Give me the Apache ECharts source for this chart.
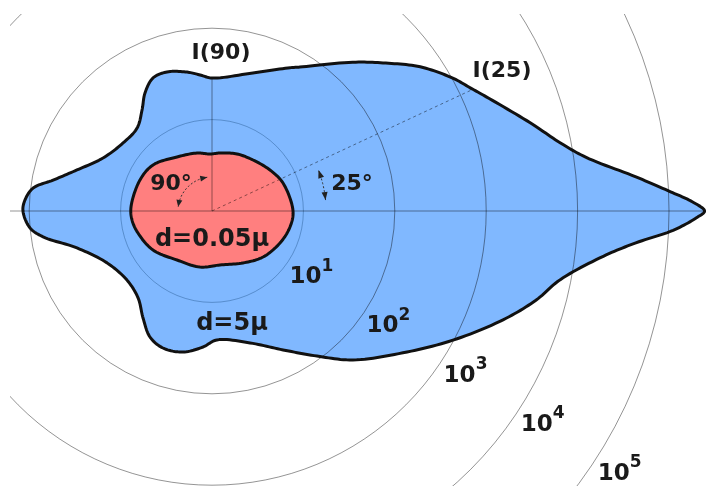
<!DOCTYPE html>
<html>
<head>
<meta charset="utf-8">
<script src="https://cdn.jsdelivr.net/npm/echarts@6/dist/echarts.min.js"></script>
<style>
  html, body { margin: 0; padding: 0; background: #ffffff; }
  #chart { width: 706px; height: 486px; }
</style>
</head>
<body>
<div id="chart"></div>
<script>
// Polar scattering diagram: relative scattered intensity (log radius) vs scattering angle
// (0 deg = forward direction, to the right).

// Large particle, d = 5 micron
const largeAngles = [0, 1.1, 2.4, 4.6, 8.2, 11.1, 15.5, 22.6, 25.5, 28.9, 34.7, 40.4, 46.6, 58.6, 61.4,
  73.5, 90, 95, 100.2, 107.9, 113.9, 119.6, 124.7, 132.1, 142.6, 154.1, 163.1, 169, 172.7, 176.6,
  180, 185.3, 188.7, 195.3, 206.3, 219.1, 229.6, 237.2, 243.8, 250.3, 258.4, 266.2, 272.2, 286.1,
  297.1, 305.9, 313.4, 323.4, 331.8, 339.5, 344.6, 348.8, 353.4, 355.7, 357.6, 359.2];
const largeIntensity = [245000, 180000, 105000, 45000, 13500, 7600, 4100, 1780, 1350, 1020, 590, 314, 174, 70, 61,
  37.6, 28.5, 31.2, 35, 39.7, 39.1, 30.5, 22.1, 16.7, 16.8, 21.2, 35, 59, 94, 112,
  117, 100, 74, 34, 19.1, 15.8, 17.7, 24.7, 34.4, 39.1, 37.6, 31, 25.8, 31.8,
  51, 91, 175, 400, 980, 2510, 4740, 7600, 20400, 44700, 112000, 200000];

// Small particle, d = 0.05 micron
const smallAngles = [0, 21.5, 35.3, 51.2, 66.3, 82.1, 92, 104.5, 122.9, 142, 156.7, 177,
  186.4, 196.6, 213.5, 234.5, 257.9, 278.4, 300.8, 318, 334.8, 348.4];
const smallIntensity = [7.7, 6.84, 5.98, 5.2, 4.8, 4.37, 4.21, 4.52, 5.06, 6.58, 7.21, 7.71,
  7.6, 7.0, 5.94, 4.56, 4.24, 3.95, 4.59, 5.65, 6.64, 7.43];

// Marked intensities I(90) and I(25) of the large particle
const markedAngles = [90, 25];
const markedIntensity = [28.5, 1350];

// Decade circles and their labels
const decadeExponents = [1, 2, 3, 4, 5];
const decadeLabelAngle = 327.5;

const BLUE = '#80b8ff';
const RED = '#ff7f7f';
const INK = '#1a1a1a';
const GRID = 'rgba(0,0,0,0.42)';
const GRID_INNER = 'rgba(0,50,100,0.32)';
const FONT = '"DejaVu Sans", sans-serif';

// Closed centripetal Catmull-Rom curve through the projected points (drawing only).
function smoothClosed(pts, seg) {
  const n = pts.length, out = [];
  const dist = (a, b) => Math.max(1e-6, Math.sqrt(Math.hypot(b[0] - a[0], b[1] - a[1])));
  const lerp = (a, b, ta, tb, t) => {
    const w = (t - ta) / (tb - ta);
    return [a[0] + (b[0] - a[0]) * w, a[1] + (b[1] - a[1]) * w];
  };
  for (let i = 0; i < n; i++) {
    const p0 = pts[(i - 1 + n) % n], p1 = pts[i], p2 = pts[(i + 1) % n], p3 = pts[(i + 2) % n];
    const t0 = 0, t1 = t0 + dist(p0, p1), t2 = t1 + dist(p1, p2), t3 = t2 + dist(p2, p3);
    for (let s = 0; s < seg; s++) {
      const t = t1 + (t2 - t1) * s / seg;
      const a1 = lerp(p0, p1, t0, t1, t), a2 = lerp(p1, p2, t1, t2, t), a3 = lerp(p2, p3, t2, t3, t);
      const b1 = lerp(a1, a2, t0, t2, t), b2 = lerp(a2, a3, t1, t3, t);
      out.push(lerp(b1, b2, t1, t2, t));
    }
  }
  return out;
}

function shapePoints(api, angles, values) {
  return smoothClosed(angles.map((a, i) => api.coord([values[i], a])), 12);
}

function arcPoints(api, value, a0, a1, step) {
  const pts = [];
  const n = Math.max(2, Math.ceil(Math.abs(a1 - a0) / step));
  for (let k = 0; k <= n; k++) pts.push(api.coord([value, a0 + (a1 - a0) * k / n]));
  return pts;
}

function arrowHead(tip, prev, len, wid) {
  const dx = tip[0] - prev[0], dy = tip[1] - prev[1];
  const d = Math.hypot(dx, dy) || 1;
  const ux = dx / d, uy = dy / d, nx = -uy, ny = ux;
  return {
    type: 'polygon',
    shape: { points: [
      [tip[0], tip[1]],
      [tip[0] - ux * len + nx * wid / 2, tip[1] - uy * len + ny * wid / 2],
      [tip[0] - ux * len - nx * wid / 2, tip[1] - uy * len - ny * wid / 2]
    ] },
    style: { fill: '#222' }
  };
}

const chart = echarts.init(document.getElementById('chart'), null, { renderer: 'canvas' });

chart.setOption({
  backgroundColor: '#ffffff',
  animation: false,
  polar: { center: [212, 211], radius: 457 },
  angleAxis: {
    type: 'value', min: 0, max: 360, startAngle: 0, clockwise: false,
    axisLine: { show: false }, axisTick: { show: false }, axisLabel: { show: false },
    splitLine: { show: false }
  },
  radiusAxis: {
    type: 'log', logBase: 10, min: 1, max: 100000, z: 3,
    axisLine: { show: false }, axisTick: { show: false }, axisLabel: { show: false },
    // circles at 10^0 .. 10^5; the 10^1 circle is drawn fainter
    splitLine: { show: true, lineStyle: { color: [GRID, GRID_INNER, GRID, GRID, GRID, GRID], width: 1 } }
  },
  series: [
    // filled lobes
    {
      type: 'custom', coordinateSystem: 'polar', z: 1, silent: true, data: [[1, 0]],
      renderItem: (params, api) => ({
        type: 'group',
        children: [
          { type: 'polygon', shape: { points: shapePoints(api, largeAngles, largeIntensity) },
            style: { fill: BLUE } },
          { type: 'polygon', shape: { points: shapePoints(api, smallAngles, smallIntensity) },
            style: { fill: RED } }
        ]
      })
    },
    // reference lines and angle arcs
    {
      type: 'custom', coordinateSystem: 'polar', z: 4, silent: true, data: [[1, 0]],
      renderItem: (params, api) => {
        const c = api.coord([1, 0]);
        const left = api.coord([100000, 180]);
        const right = api.coord([300000, 0]);
        const top = api.coord([markedIntensity[0], markedAngles[0]]);
        const slant = api.coord([markedIntensity[1], markedAngles[1]]);
        const arc90 = arcPoints(api, 2.36, 98, 173, 3);
        const arc25 = arcPoints(api, 17.7, 5.5, 21, 1.5);
        return {
          type: 'group',
          children: [
            { type: 'line', shape: { x1: left[0], y1: left[1], x2: right[0], y2: right[1] },
              style: { stroke: GRID, lineWidth: 1 } },
            { type: 'line', shape: { x1: c[0], y1: c[1], x2: top[0], y2: top[1] },
              style: { stroke: GRID, lineWidth: 1 } },
            { type: 'line', shape: { x1: c[0], y1: c[1], x2: slant[0], y2: slant[1] },
              style: { stroke: 'rgba(0,0,0,0.45)', lineWidth: 1, lineDash: [3, 3] } },
            { type: 'polyline', shape: { points: arc90 },
              style: { stroke: '#333', lineWidth: 1, lineDash: [2, 2], fill: 'none' } },
            { type: 'polyline', shape: { points: arc25 },
              style: { stroke: '#333', lineWidth: 1, lineDash: [2, 2], fill: 'none' } },
            arrowHead(arc90[0], arc90[2], 7, 6),
            arrowHead(arc90[arc90.length - 1], arc90[arc90.length - 3], 7, 6),
            arrowHead(arc25[0], arc25[2], 8, 6),
            arrowHead(arc25[arc25.length - 1], arc25[arc25.length - 3], 8, 6)
          ]
        };
      }
    },
    // outlines
    {
      type: 'custom', coordinateSystem: 'polar', z: 5, silent: true, data: [[1, 0]],
      renderItem: (params, api) => ({
        type: 'group',
        children: [
          { type: 'polygon', shape: { points: shapePoints(api, largeAngles, largeIntensity) },
            style: { fill: 'none', stroke: '#111', lineWidth: 3, lineJoin: 'round' } },
          { type: 'polygon', shape: { points: shapePoints(api, smallAngles, smallIntensity) },
            style: { fill: 'none', stroke: '#111', lineWidth: 3, lineJoin: 'round' } }
        ]
      })
    },
    // decade labels
    {
      type: 'custom', coordinateSystem: 'polar', z: 6, silent: true,
      data: decadeExponents.map(e => [Math.pow(10, e) * 1.95, decadeLabelAngle, e]),
      renderItem: (params, api) => {
        const p = api.coord([api.value(0), api.value(1)]);
        return {
          type: 'group',
          children: [
            { type: 'text', x: p[0] - 6, y: p[1] + 3,
              style: { text: '10', font: 'bold 23px ' + FONT, fill: INK, align: 'center', verticalAlign: 'middle' } },
            { type: 'text', x: p[0] + 16, y: p[1] - 8,
              style: { text: String(api.value(2)), font: 'bold 17px ' + FONT, fill: INK, align: 'center', verticalAlign: 'middle' } }
          ]
        };
      }
    }
  ],
  graphic: [
    { type: 'rect', z: 100, silent: true, shape: { x: 0, y: 0, width: 706, height: 14 }, style: { fill: '#ffffff' } },
    { type: 'rect', z: 100, silent: true, shape: { x: 0, y: 0, width: 10, height: 486 }, style: { fill: '#ffffff' } },
    { type: 'text', z: 101, x: 221, y: 53, style: { text: 'I(90)', font: 'bold 22px ' + FONT, fill: INK, align: 'center', verticalAlign: 'middle' } },
    { type: 'text', z: 101, x: 502, y: 71, style: { text: 'I(25)', font: 'bold 22px ' + FONT, fill: INK, align: 'center', verticalAlign: 'middle' } },
    { type: 'text', z: 101, x: 171, y: 184, style: { text: '90°', font: 'bold 22px ' + FONT, fill: INK, align: 'center', verticalAlign: 'middle' } },
    { type: 'text', z: 101, x: 352, y: 184, style: { text: '25°', font: 'bold 22px ' + FONT, fill: INK, align: 'center', verticalAlign: 'middle' } },
    { type: 'text', z: 101, x: 212, y: 240, style: { text: 'd=0.05μ', font: 'bold 24px ' + FONT, fill: INK, align: 'center', verticalAlign: 'middle' } },
    { type: 'text', z: 101, x: 232, y: 324, style: { text: 'd=5μ', font: 'bold 24px ' + FONT, fill: INK, align: 'center', verticalAlign: 'middle' } }
  ]
});
</script>
</body>
</html>
